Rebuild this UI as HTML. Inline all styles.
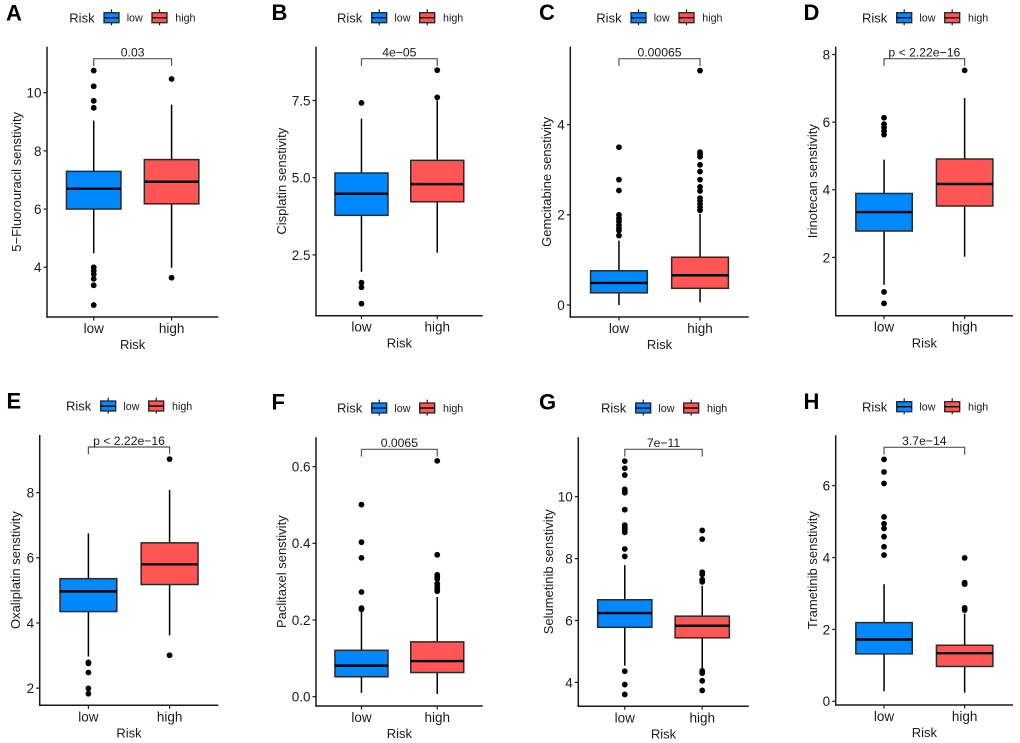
<!DOCTYPE html>
<html lang="en">
<head>
<meta charset="utf-8">
<title>Drug sensitivity by risk group</title>
<style>
html,body{margin:0;padding:0;background:#fff;}
svg{display:block;font-family:"Liberation Sans",Arial,sans-serif;}
</style>
</head>
<body>
<svg id="figure" xmlns="http://www.w3.org/2000/svg" width="1020" height="743" viewBox="0 0 1020 743"></svg>
<script>
// ---------- data ----------
const categories = ['low', 'high'];
const legendTitle = 'Risk';
const xAxisTitle = 'Risk';
const panelLetters = ['A', 'B', 'C', 'D', 'E', 'F', 'G', 'H'];
const yTitles = [
  '5\u2212Fluorouracil senstivity', 'Cisplatin senstivity', 'Gemcitabine senstivity', 'Irinotecan senstivity',
  'Oxaliplatin senstivity', 'Paclitaxel senstivity', 'Selumetinib senstivity', 'Trametinib senstivity'
];
const pLabels = ['0.03', '4e\u221205', '0.00065', 'p < 2.22e\u221216', 'p < 2.22e\u221216', '0.0065', '7e\u221211', '3.7e\u221214'];
const yTickLabels = [
  ['4', '6', '8', '10'], ['2.5', '5.0', '7.5'], ['0', '2', '4'], ['2', '4', '6', '8'],
  ['2', '4', '6', '8'], ['0.0', '0.2', '0.4', '0.6'], ['4', '6', '8', '10'], ['0', '2', '4', '6']
];
const yDomains = [
  [2.29, 11.58], [0.53, 9.24], [-0.266, 5.73], [0.276, 8.23],
  [1.473, 9.77], [-0.0243, 0.6765], [3.227, 11.92], [-0.102, 7.40]
];
// box stats: whisker low, q1, median, q3, whisker high
const lowBoxes = [
  [4.48, 6.0, 6.7, 7.295, 9.04], [1.95, 3.78, 4.48, 5.15, 6.91], [0.0, 0.27, 0.49, 0.76, 1.43], [1.19, 2.78, 3.34, 3.89, 4.89],
  [2.97, 4.35, 4.97, 5.36, 6.75], [0.01, 0.052, 0.081, 0.121, 0.223], [4.54, 5.78, 6.24, 6.67, 7.79], [0.28, 1.32, 1.72, 2.19, 3.26]
];
const highBoxes = [
  [3.98, 6.18, 6.94, 7.70, 9.59], [2.57, 4.22, 4.79, 5.56, 7.5], [0.06, 0.37, 0.66, 1.06, 2.02], [2.02, 3.52, 4.17, 4.91, 6.71],
  [3.62, 5.18, 5.8, 6.46, 8.08], [0.007, 0.063, 0.093, 0.143, 0.26], [4.43, 5.44, 5.83, 6.14, 7.12], [0.24, 0.97, 1.34, 1.56, 2.44]
];
const lowOutliers = [
  [10.76, 10.22, 9.72, 9.48, 4.0, 3.88, 3.76, 3.6, 3.38, 2.7],
  [7.42, 1.6, 1.45, 0.92],
  [3.5, 2.78, 2.54, 2.0, 1.92, 1.85, 1.77, 1.7, 1.65, 1.54],
  [6.13, 5.94, 5.84, 5.74, 5.63, 0.98, 0.64],
  [2.79, 2.76, 2.48, 1.99, 1.83],
  [0.501, 0.403, 0.362, 0.273, 0.231, 0.228],
  [11.15, 10.92, 10.7, 10.24, 10.18, 10.13, 9.58, 9.08, 9.0, 8.93, 8.85, 8.31, 8.07, 4.36, 3.93, 3.61],
  [6.73, 6.38, 6.06, 5.13, 4.94, 4.81, 4.58, 4.3, 4.07]
];
const highOutliers = [
  [10.47, 3.64],
  [8.48, 7.6],
  [5.2, 3.39, 3.34, 3.29, 3.11, 2.96, 2.78, 2.62, 2.53, 2.37, 2.31, 2.24, 2.17, 2.1],
  [7.53],
  [9.03, 3.01],
  [0.615, 0.37, 0.318, 0.312, 0.307, 0.295, 0.288, 0.281, 0.275],
  [8.91, 8.63, 7.56, 7.49, 7.32, 7.25, 4.37, 4.3, 4.05, 3.74],
  [3.99, 3.3, 3.26, 2.6, 2.54]
];

// ---------- layout (panel frames, not data) ----------
const frames = [
  {l: 47, r: 218.3, t: 46.7, b: 317, legendX: 69.3, legendY: 17.7, letterX: 6, letterY: 20.5, titleX: 16.7},
  {l: 316, r: 482.7, t: 46.7, b: 315.7, legendX: 337, legendY: 17.7, letterX: 271.5, letterY: 20, titleX: 281.7},
  {l: 570.3, r: 748.7, t: 46.7, b: 317, legendX: 596.3, legendY: 17.7, letterX: 539, letterY: 20, titleX: 546.7},
  {l: 835.7, r: 1013, t: 46.7, b: 315.7, legendX: 862, legendY: 17.7, letterX: 803.5, letterY: 20, titleX: 812.3},
  {l: 39.7, r: 218.3, t: 435, b: 705.3, legendX: 66, legendY: 406, letterX: 6.5, letterY: 408.5, titleX: 15.7},
  {l: 316, r: 482.7, t: 437.3, b: 706, legendX: 337, legendY: 408, letterX: 271.5, letterY: 409.5, titleX: 281.7},
  {l: 578.3, r: 748.7, t: 437.3, b: 706.3, legendX: 601, legendY: 408, letterX: 539, letterY: 409.5, titleX: 548.3},
  {l: 835.7, r: 1013, t: 435.3, b: 705, legendX: 862, legendY: 406.7, letterX: 803.5, letterY: 409, titleX: 812.3}
];
const fills = ['#0088ff', '#ff5555'];
const ink = '#1a1a1a';

const svg = document.getElementById('figure');
const NS = 'http://www.w3.org/2000/svg';

function mk(tag, parent, attrs, text) {
  const el = document.createElementNS(NS, tag);
  for (const k in attrs) el.setAttribute(k, attrs[k]);
  if (text !== undefined) el.textContent = text;
  parent.appendChild(el);
  return el;
}

function drawKey(g, x, y, color, cat) {
  const key = mk('g', g, {});
  
  
  mk('line', key, {x1: x + 7.5, x2: x + 7.5, y1: y - 8.4, y2: y + 7.6, stroke: ink, 'stroke-width': 1.2});
  mk('rect', key, {x: x, y: y - 5, width: 15, height: 10, fill: color, stroke: '#222', 'stroke-width': 1.3});
  mk('line', key, {x1: x, x2: x + 15, y1: y, y2: y, stroke: '#000', 'stroke-width': 1.4});
}

function drawBox(g, cx, halfW, stats, outs, yScale, color, cat) {
  const group = mk('g', g, {});
  
  
  const upper = mk('line', group, {x1: cx, x2: cx, y1: yScale(stats[3]), y2: yScale(stats[4]), stroke: '#000', 'stroke-width': 1.5});
  
  
  const lower = mk('line', group, {x1: cx, x2: cx, y1: yScale(stats[1]), y2: yScale(stats[0]), stroke: '#000', 'stroke-width': 1.5});
  
  
  const box = mk('rect', group, {x: cx - halfW, y: yScale(stats[3]), width: 2 * halfW, height: yScale(stats[1]) - yScale(stats[3]), fill: color, stroke: '#2a2a2a', 'stroke-width': 1.5});
  
  
  const med = mk('line', group, {x1: cx - halfW, x2: cx + halfW, y1: yScale(stats[2]), y2: yScale(stats[2]), stroke: '#000', 'stroke-width': 2.4});
  
  
  outs.forEach(function (v) {
    const dot = mk('circle', group, {cx: cx, cy: yScale(v), r: 2.9, fill: '#000'});
    
    
  });
}

panelLetters.forEach(function (letter, i) {
  const f = frames[i];
  const dom = yDomains[i];
  const yScale = function (v) { return f.b - (v - dom[0]) / (dom[1] - dom[0]) * (f.b - f.t); };
  const unit = (f.r - f.l) / 2.2;
  const xScale = function (idx) { return f.l + (0.6 + idx) * unit; };
  const halfW = 0.35 * unit;

  const panel = mk('g', svg, {});
  
  

  const lab = mk('text', panel, {x: f.letterX, y: f.letterY, 'font-size': 22, 'font-weight': 'bold', fill: '#000'}, letter);
  
  

  // legend
  const legend = mk('g', panel, {});
  
  
  const lt = mk('text', legend, {x: f.legendX, y: f.legendY + 4.6, 'font-size': 13, fill: ink}, legendTitle);
  
  
  categories.forEach(function (cat, c) {
    drawKey(legend, f.legendX + 34.7 + c * 48, f.legendY, fills[c], cat);
    const t = mk('text', legend, {x: f.legendX + 57.4 + c * 48.6, y: f.legendY + 3.8, 'font-size': 10.7, fill: ink}, cat);
    
    
  });

  // axes
  const yAxis = mk('line', panel, {x1: f.l, x2: f.l, y1: f.t, y2: f.b + 0.7, stroke: ink, 'stroke-width': 1.5});
  
  
  const xAxis = mk('line', panel, {x1: f.l - 0.7, x2: f.r, y1: f.b, y2: f.b, stroke: ink, 'stroke-width': 1.5});
  
  

  yTickLabels[i].forEach(function (label) {
    const y = yScale(parseFloat(label));
    const tick = mk('line', panel, {x1: f.l - 3.5, x2: f.l, y1: y, y2: y, stroke: ink, 'stroke-width': 1.2});
    
    
    const t = mk('text', panel, {x: f.l - 5.5, y: y + 4.9, 'text-anchor': 'end', 'font-size': 13.5, fill: ink}, label);
    
    
  });

  categories.forEach(function (cat, c) {
    const x = xScale(c);
    const tick = mk('line', panel, {x1: x, x2: x, y1: f.b, y2: f.b + 3.5, stroke: ink, 'stroke-width': 1.2});
    
    
    const t = mk('text', panel, {x: x, y: f.b + 16, 'text-anchor': 'middle', 'font-size': 13.5, fill: ink}, cat);
    
    
  });

  const xt = mk('text', panel, {x: (f.l + f.r) / 2, y: f.b + 32, 'text-anchor': 'middle', 'font-size': 13, fill: ink}, xAxisTitle);
  
  

  const cy = (f.t + f.b) / 2;
  const yt = mk('text', panel, {x: f.titleX, y: cy, 'text-anchor': 'middle', 'dominant-baseline': 'central', 'font-size': 13, fill: ink, transform: 'rotate(-90 ' + f.titleX + ' ' + cy + ')'}, yTitles[i]);
  
  

  // boxes
  drawBox(panel, xScale(0), halfW, lowBoxes[i], lowOutliers[i], yScale, fills[0], categories[0]);
  drawBox(panel, xScale(1), halfW, highBoxes[i], highOutliers[i], yScale, fills[1], categories[1]);

  // significance bracket
  const by = f.t + 12;
  const bracket = mk('path', panel, {d: 'M' + xScale(0) + ' ' + (by + 7.3) + 'V' + by + 'H' + xScale(1) + 'V' + (by + 7.3), fill: 'none', stroke: '#555', 'stroke-width': 1.2});
  
  
  const pt = mk('text', panel, {x: (xScale(0) + xScale(1)) / 2, y: by - 2.2, 'text-anchor': 'middle', 'font-size': 12.2, fill: ink}, pLabels[i]);
  
  
});
</script>
</body>
</html>
